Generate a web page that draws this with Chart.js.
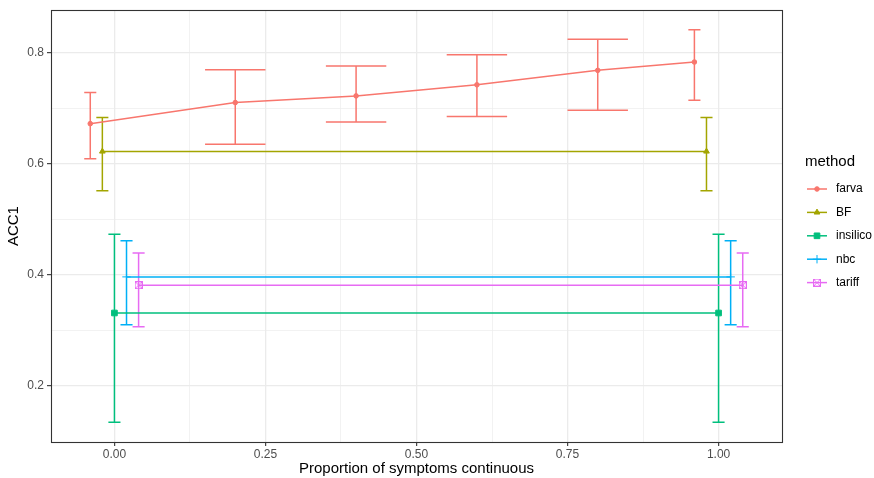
<!DOCTYPE html>
<html lang="en">
<head>
<meta charset="UTF-8">
<title>ACC1 by method</title>
<script src="https://cdn.jsdelivr.net/npm/chart.js"></script>
<style>
    body { margin: 0; background: #fff; }
    #wrap { width: 874px; height: 478px; }
</style>
</head>
<body>
<div id="wrap"><canvas id="accChart" width="874" height="478"></canvas></div>
<script>
const methods = ['farva', 'BF', 'insilico', 'nbc', 'tariff'];
const colors = ['#F8766D', '#A3A500', '#00BF7D', '#00B0F6', '#E76BF3'];

// proportion of continuous symptoms, mean ACC1 and interval ends per method
const farvaProp = [0, 0.2, 0.4, 0.6, 0.8, 1];
const farvaAcc = [0.672, 0.710, 0.722, 0.742, 0.768, 0.783];
const farvaLow = [0.609, 0.635, 0.675, 0.685, 0.696, 0.714];
const farvaHigh = [0.728, 0.769, 0.776, 0.796, 0.824, 0.841];

const bfProp = [0, 1];
const bfAcc = [0.622, 0.622];
const bfLow = [0.551, 0.551];
const bfHigh = [0.683, 0.683];

const insilicoProp = [0, 1];
const insilicoAcc = [0.331, 0.331];
const insilicoLow = [0.134, 0.134];
const insilicoHigh = [0.473, 0.473];

const nbcProp = [0, 1];
const nbcAcc = [0.396, 0.396];
const nbcLow = [0.310, 0.310];
const nbcHigh = [0.461, 0.461];

const tariffProp = [0, 1];
const tariffAcc = [0.381, 0.381];
const tariffLow = [0.306, 0.306];
const tariffHigh = [0.439, 0.439];

const xTicks = [0, 0.125, 0.25, 0.375, 0.5, 0.625, 0.75, 0.875, 1];
const yTicks = [0.2, 0.3, 0.4, 0.5, 0.6, 0.7, 0.8];

const series = [
    { prop: farvaProp, acc: farvaAcc, low: farvaLow, high: farvaHigh },
    { prop: bfProp, acc: bfAcc, low: bfLow, high: bfHigh },
    { prop: insilicoProp, acc: insilicoAcc, low: insilicoLow, high: insilicoHigh },
    { prop: nbcProp, acc: nbcAcc, low: nbcLow, high: nbcHigh },
    { prop: tariffProp, acc: tariffAcc, low: tariffLow, high: tariffHigh },
];

// dodge groups that share an x value, like position_dodge(width = 0.1)
const dodgeWidth = 0.1;
series.forEach(s => {
    s.x = [];
    s.half = [];
    s.prop.forEach(p => {
        const present = series.filter(o => o.prop.includes(p));
        const n = present.length;
        const k = present.indexOf(s);
        s.x.push(p + (k - (n - 1) / 2) * dodgeWidth / n);
        s.half.push(dodgeWidth / n / 2);
    });
});

function expand(lo, hi) {
    const pad = (hi - lo) * 0.05;
    return [lo - pad, hi + pad];
}
const [xMin, xMax] = expand(
    Math.min(...series.flatMap(s => s.x.map((v, j) => v - s.half[j]))),
    Math.max(...series.flatMap(s => s.x.map((v, j) => v + s.half[j])))
);
const [yMin, yMax] = expand(
    Math.min(...series.flatMap(s => s.low)),
    Math.max(...series.flatMap(s => s.high))
);

// square with an x through it
function boxCross(color) {
    const c = document.createElement('canvas');
    c.width = 8;
    c.height = 8;
    const g = c.getContext('2d');
    g.strokeStyle = color;
    g.lineWidth = 1;
    g.strokeRect(0.5, 0.5, 7, 7);
    g.beginPath();
    g.moveTo(0.5, 0.5); g.lineTo(7.5, 7.5);
    g.moveTo(7.5, 0.5); g.lineTo(0.5, 7.5);
    g.stroke();
    return c;
}
const pointStyles = ['circle', 'triangle', 'rect', 'cross', boxCross(colors[4])];
const radii = [2.3, 3.3, 4.0, 4.2, 4];

const isMajorX = v => Math.abs(v * 4 - Math.round(v * 4)) < 1e-9;
const isMajorY = v => Math.abs(v * 5 - Math.round(v * 5)) < 1e-9;
const tickVal = c => (c.tick ? c.tick.value : 0);

const fontFamily = '"Liberation Sans", Arial, sans-serif';
Chart.defaults.font.family = fontFamily;

const errorBars = {
    id: 'errorBars',
    beforeDatasetsDraw(chart) {
        const { ctx, scales: { x, y } } = chart;
        ctx.save();
        ctx.lineWidth = 1.5;
        series.forEach((s, i) => {
            ctx.strokeStyle = colors[i];
            s.x.forEach((xv, j) => {
                const cx = x.getPixelForValue(xv);
                const x0 = x.getPixelForValue(xv - s.half[j]);
                const x1 = x.getPixelForValue(xv + s.half[j]);
                const yl = y.getPixelForValue(s.low[j]);
                const yh = y.getPixelForValue(s.high[j]);
                ctx.beginPath();
                ctx.moveTo(x0, yh); ctx.lineTo(x1, yh);
                ctx.moveTo(cx, yh); ctx.lineTo(cx, yl);
                ctx.moveTo(x0, yl); ctx.lineTo(x1, yl);
                ctx.stroke();
            });
        });
        ctx.restore();
    }
};

const panelBorder = {
    id: 'panelBorder',
    afterDatasetsDraw(chart) {
        const { ctx, chartArea: a } = chart;
        ctx.save();
        ctx.strokeStyle = '#333333';
        ctx.lineWidth = 1.1;
        ctx.strokeRect(Math.round(a.left) + 0.5, Math.round(a.top) + 0.5,
            Math.round(a.right - a.left), Math.round(a.bottom - a.top));
        ctx.restore();
    }
};

const methodLegend = {
    id: 'methodLegend',
    afterDraw(chart) {
        const { ctx, chartArea } = chart;
        const left = chartArea.right + 23;
        ctx.save();
        ctx.textBaseline = 'middle';
        ctx.fillStyle = '#000';
        ctx.font = '15px ' + fontFamily;
        ctx.fillText('method', left, 162);
        methods.forEach((m, i) => {
            const cy = 189 + i * 23.4;
            ctx.strokeStyle = colors[i];
            ctx.fillStyle = colors[i];
            ctx.lineWidth = 1.5;
            ctx.beginPath();
            ctx.moveTo(left + 2, cy);
            ctx.lineTo(left + 22, cy);
            ctx.stroke();
            ctx.lineWidth = 1;
            Chart.helpers.drawPoint(ctx, { pointStyle: pointStyles[i], radius: radii[i], rotation: 0, borderWidth: 1 }, left + 12, cy);
            ctx.fillStyle = '#000';
            ctx.font = '12px ' + fontFamily;
            ctx.fillText(m, left + 31, cy);
        });
        ctx.restore();
    }
};

new Chart(document.getElementById('accChart'), {
    type: 'line',
    data: {
        datasets: series.map((s, i) => ({
            label: methods[i],
            data: s.x.map((xv, j) => ({ x: xv, y: s.acc[j] })),
            borderColor: colors[i],
            backgroundColor: colors[i],
            borderWidth: 1.5,
            pointStyle: pointStyles[i],
            pointRadius: radii[i],
            pointBorderWidth: 1,
            tension: 0,
            order: methods.length - i,
        })),
    },
    options: {
        responsive: false,
        animation: false,
        events: [],
        layout: { padding: { top: 7, right: 92, left: 0, bottom: 0 } },
        plugins: {
            legend: { display: false },
            tooltip: { enabled: false },
        },
        scales: {
            x: {
                type: 'linear',
                min: xMin,
                max: xMax,
                afterBuildTicks: s => { s.ticks = xTicks.map(v => ({ value: v })); },
                afterFit: s => { s.height = 36; },
                border: { display: false },
                grid: {
                    color: '#EBEBEB',
                    lineWidth: c => (isMajorX(tickVal(c)) ? 1.3 : 0.65),
                    tickColor: c => (isMajorX(tickVal(c)) ? '#333333' : 'rgba(0,0,0,0)'),
                    tickLength: 4,
                    tickWidth: 1.1,
                },
                ticks: {
                    color: '#4D4D4D',
                    font: { size: 12 },
                    padding: 1,
                    maxRotation: 0,
                    autoSkip: false,
                    callback: v => (isMajorX(v) ? v.toFixed(2) : ''),
                },
                title: {
                    display: true,
                    text: 'Proportion of symptoms continuous',
                    color: '#000',
                    font: { size: 15 },
                    padding: { top: 0, bottom: 0 },
                },
            },
            y: {
                type: 'linear',
                min: yMin,
                max: yMax,
                afterBuildTicks: s => { s.ticks = yTicks.map(v => ({ value: v })); },
                afterFit: s => { s.width = 51; },
                border: { display: false },
                grid: {
                    color: '#EBEBEB',
                    lineWidth: c => (isMajorY(tickVal(c)) ? 1.3 : 0.65),
                    tickColor: c => (isMajorY(tickVal(c)) ? '#333333' : 'rgba(0,0,0,0)'),
                    tickLength: 4,
                    tickWidth: 1.1,
                },
                ticks: {
                    color: '#4D4D4D',
                    font: { size: 12 },
                    padding: 3,
                    autoSkip: false,
                    callback: v => (isMajorY(v) ? v.toFixed(1) : ''),
                },
                title: {
                    display: true,
                    text: 'ACC1',
                    color: '#000',
                    font: { size: 15 },
                    padding: { top: 5, bottom: 0 },
                },
            },
        },
    },
    plugins: [errorBars, panelBorder, methodLegend],
});
</script>
</body>
</html>
